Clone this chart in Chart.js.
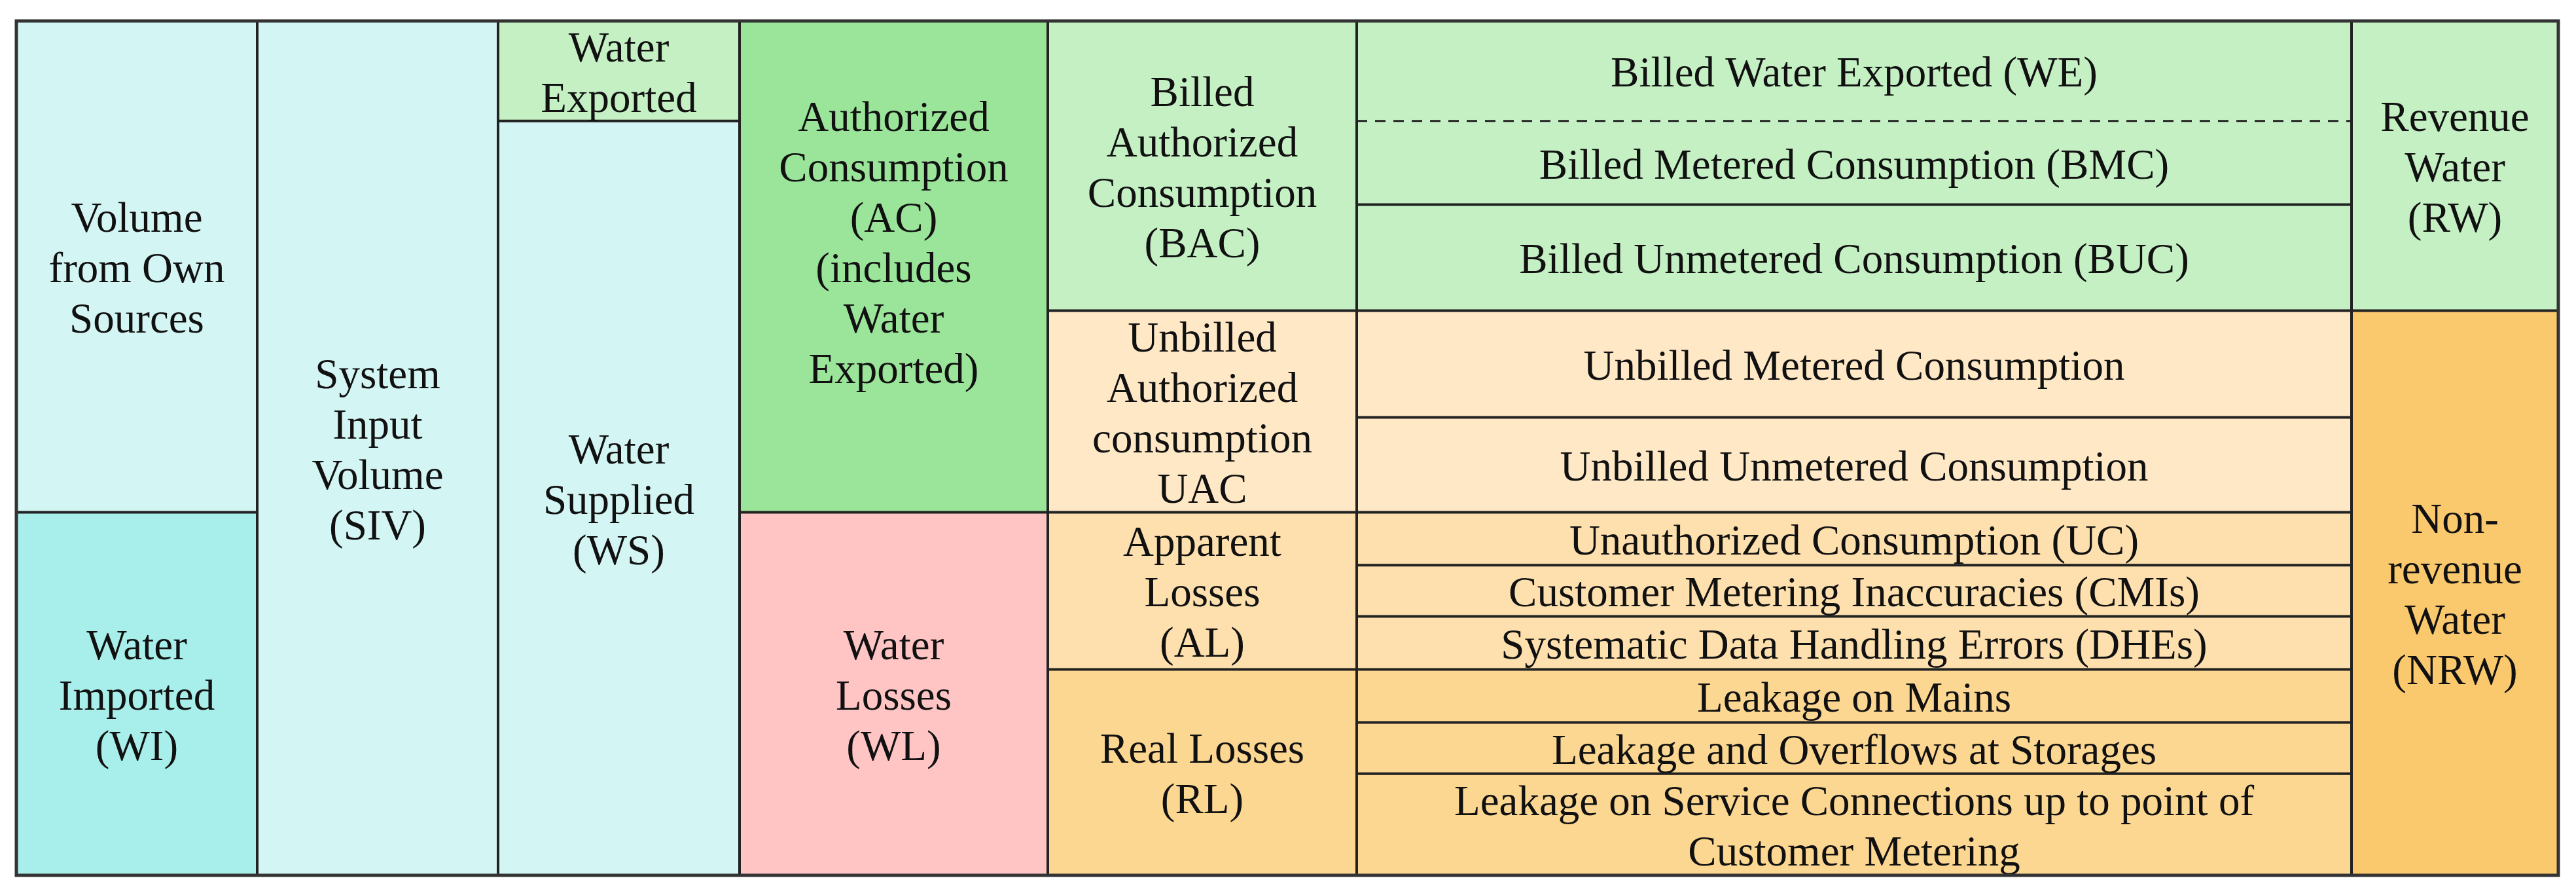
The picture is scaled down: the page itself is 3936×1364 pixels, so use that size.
<!DOCTYPE html>
<html>
<head>
<meta charset="utf-8">
<title>Water balance</title>
<script src="https://cdn.jsdelivr.net/npm/chart.js@4/dist/chart.umd.min.js"></script>
<style>
  html, body { margin: 0; padding: 0; background: #ffffff; }
  canvas { display: block; }
</style>
</head>
<body>
<canvas id="chartWaterBalance" width="3936" height="1364"></canvas>
<script>
// --- data: one entry per cell of the water balance ---
const cellLabels = [
    'Volume\nfrom Own\nSources', 'Water\nImported\n(WI)',
    'System\nInput\nVolume\n(SIV)',
    'Water\nExported', 'Water\nSupplied\n(WS)',
    'Authorized\nConsumption\n(AC)\n(includes\nWater\nExported)\n', 'Water\nLosses\n(WL)',
    'Billed\nAuthorized\nConsumption\n(BAC)', 'Unbilled\nAuthorized\nconsumption\nUAC',
    'Apparent\nLosses\n(AL)', 'Real Losses\n(RL)',
    'Billed Water Exported (WE)', 'Billed Metered Consumption (BMC)', 'Billed Unmetered Consumption (BUC)',
    'Unbilled Metered Consumption', 'Unbilled Unmetered Consumption',
    'Unauthorized Consumption (UC)', 'Customer Metering Inaccuracies (CMIs)',
    'Systematic Data Handling Errors (DHEs)',
    'Leakage on Mains', 'Leakage and Overflows at Storages',
    'Leakage on Service Connections up to point of\nCustomer Metering',
    'Revenue\nWater\n(RW)', 'Non-\nrevenue\nWater\n(NRW)'
];
const cellColumn = [0, 0, 1, 2, 2, 3, 3, 4, 4, 4, 4, 5, 5, 5, 5, 5, 5, 5, 5, 5, 5, 5, 6, 6];
// share of the system input volume (top = 0, bottom = 100)
const cellStart = [0, 57.5, 0, 0, 11.7, 0, 57.5, 0, 33.9, 57.5, 75.9,
    0, 11.7, 21.5, 33.9, 46.4, 57.5, 63.7, 69.7, 75.9, 82.1, 88.1, 0, 33.9];
const cellEnd = [57.5, 100, 100, 11.7, 100, 57.5, 100, 33.9, 57.5, 75.9, 100,
    11.7, 21.5, 33.9, 46.4, 57.5, 63.7, 69.7, 75.9, 82.1, 88.1, 100, 33.9, 100];
// boundary drawn dashed instead of solid (WE / BMC)
const cellDashedBottom = [false, false, false, false, false, false, false, false, false, false, false,
    true, false, false, false, false, false, false, false, false, false, false, false, false];

// --- layout and styles ---
const colEdges = [0, 368, 736, 1105, 1576, 2048, 3568, 3884];
const palette = {
    cyan: '#d3f5f3', cyanDark: '#a8eeea', green: '#c4f0c4', greenDark: '#9be59a',
    pink: '#ffc5c5', peach: '#fee8c6', peachDark: '#fde0ad', orange: '#fcd792', orangeDark: '#fac96e'
};
const cellColors = [
    'cyan', 'cyanDark', 'cyan', 'green', 'cyan', 'greenDark', 'pink',
    'green', 'peach', 'peachDark', 'orange',
    'green', 'green', 'green', 'peach', 'peach', 'peachDark', 'peachDark', 'peachDark',
    'orange', 'orange', 'orange', 'green', 'orangeDark'
].map(k => palette[k]);

const LINE_HEIGHT = 77;

const datasets = cellLabels.map((label, i) => ({
    label: label,
    data: [
        { x: colEdges[cellColumn[i]], y: cellStart[i] },
        { x: colEdges[cellColumn[i] + 1], y: cellStart[i] }
    ],
    fill: { value: cellEnd[i] },
    backgroundColor: cellColors[i],
    borderWidth: 0,
    pointRadius: 0,
    tension: 0
}));

// borders and texts, placed through the chart scales
const cellPlugin = {
    id: 'cellPlugin',
    afterDraw(chart) {
        const ctx = chart.ctx;
        const xs = chart.scales.x;
        const ys = chart.scales.y;
        ctx.save();
        ctx.lineCap = 'butt';
        cellLabels.forEach((label, i) => {
            const x0 = xs.getPixelForValue(colEdges[cellColumn[i]]);
            const x1 = xs.getPixelForValue(colEdges[cellColumn[i] + 1]);
            const y0 = ys.getPixelForValue(cellStart[i]);
            const y1 = ys.getPixelForValue(cellEnd[i]);

            ctx.strokeStyle = '#222222';
            ctx.lineWidth = 4;
            ctx.setLineDash([]);
            ctx.beginPath();
            ctx.moveTo(x0, y0); ctx.lineTo(x0, y1);
            ctx.moveTo(x1, y0); ctx.lineTo(x1, y1);
            ctx.stroke();

            ctx.beginPath();
            if (cellDashedBottom[i]) {
                ctx.lineWidth = 3;
                ctx.setLineDash([16, 12]);
            }
            ctx.moveTo(x0, y1); ctx.lineTo(x1, y1);
            ctx.stroke();
        });

        // labels
        ctx.setLineDash([]);
        ctx.fillStyle = '#111111';
        ctx.font = '65px "Liberation Serif"';
        ctx.textAlign = 'center';
        ctx.textBaseline = 'alphabetic';
        cellLabels.forEach((label, i) => {
            const x0 = xs.getPixelForValue(colEdges[cellColumn[i]]);
            const x1 = xs.getPixelForValue(colEdges[cellColumn[i] + 1]);
            const y0 = ys.getPixelForValue(cellStart[i]);
            const y1 = ys.getPixelForValue(cellEnd[i]);
            const lines = label.split('\n');
            const cx = (x0 + x1) / 2;
            const cy = (y0 + y1) / 2;
            lines.forEach((line, k) => {
                const ly = cy + (k - (lines.length - 1) / 2) * LINE_HEIGHT;
                ctx.fillText(line, cx, ly + 24);
            });
        });

        // outer frame
        const area = chart.chartArea;
        ctx.lineWidth = 5;
        ctx.strokeStyle = '#333333';
        ctx.strokeRect(area.left, area.top, area.right - area.left, area.bottom - area.top);
        ctx.restore();
    }
};

new Chart(document.getElementById('chartWaterBalance').getContext('2d'), {
    type: 'line',
    data: { datasets: datasets },
    options: {
        responsive: false,
        devicePixelRatio: 1,
        animation: false,
        layout: { padding: { left: 25, top: 32, right: 27, bottom: 27 } },
        plugins: {
            legend: { display: false },
            tooltip: { enabled: false }
        },
        scales: {
            x: { type: 'linear', min: 0, max: colEdges[colEdges.length - 1], display: false },
            y: { type: 'linear', min: 0, max: 100, reverse: true, display: false }
        }
    },
    plugins: [cellPlugin]
});
</script>
</body>
</html>
